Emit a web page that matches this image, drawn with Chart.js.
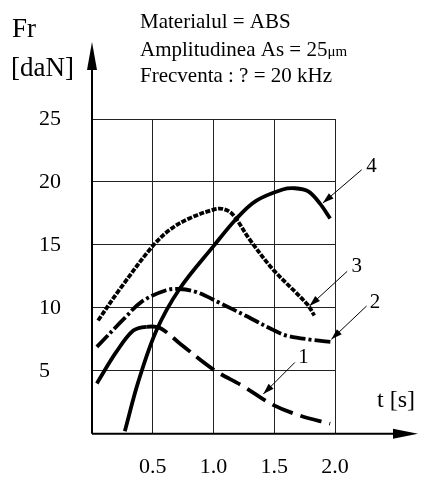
<!DOCTYPE html>
<html><head><meta charset="utf-8">
<script src="https://cdn.jsdelivr.net/npm/chart.js@4"></script>
<style>html,body{margin:0;padding:0;background:#fff}#wrap{width:422px;height:477px}</style>
</head><body><div id="wrap"><canvas id="c" width="422" height="477"></canvas></div>
<script>
// ---- data ----
const curve1X = [0.04, 0.20, 0.34, 0.45, 0.56, 0.72, 1.00, 1.24, 1.49, 1.71, 1.96];
const curve1Y = [4.0, 6.5, 8.2, 8.5, 8.4, 7.2, 5.1, 3.8, 2.3, 1.45, 0.8];
const curve2X = [0.04, 0.26, 0.41, 0.61, 0.72, 0.86, 1.05, 1.27, 1.48, 1.60, 1.82, 1.97];
const curve2Y = [6.9, 9.1, 10.5, 11.4, 11.5, 11.25, 10.4, 9.35, 8.3, 7.8, 7.45, 7.3];
const curve3X = [0.05, 0.23, 0.49, 0.64, 0.80, 1.00, 1.08, 1.16, 1.30, 1.49, 1.77, 1.83];
const curve3Y = [9.0, 11.5, 14.8, 16.2, 17.1, 17.8, 17.85, 17.4, 15.4, 13.05, 10.3, 9.4];
const curve4X = [0.27, 0.38, 0.53, 0.72, 1.00, 1.19, 1.35, 1.57, 1.67, 1.78, 1.875, 1.96];
const curve4Y = [0.2, 4.1, 8.2, 11.5, 14.9, 17.1, 18.5, 19.4, 19.5, 19.25, 18.3, 17.1];
const curveLabels = ["1", "2", "3", "4"];
const labelTextX = [1.74, 2.33, 2.18, 2.30];
const labelTextY = [6.1, 10.4, 13.3, 21.2];
const labelFromX = [1.67, 2.26, 2.10, 2.22];
const labelFromY = [5.67, 10.15, 12.9, 20.97];
const labelTipX = [1.41, 1.97, 1.79, 1.90];
const labelTipY = [3.16, 7.5, 10.15, 18.33];
const xTicks = [0.5, 1.0, 1.5, 2.0];
const yTicks = [5, 10, 15, 20, 25];
const headerLines = ["Materialul = ABS", "Amplitudinea As = 25", "Frecventa : ? = 20 kHz"];

const pts = (xs, ys) => xs.map((x, i) => ({x, y: ys[i]}));
const SERIF = "'Liberation Serif', 'DejaVu Serif', serif";

function arrowHead(ctx, x1, y1, x2, y2, len, half) {
  const a = Math.atan2(y2 - y1, x2 - x1);
  ctx.beginPath();
  ctx.moveTo(x2, y2);
  ctx.lineTo(x2 - len * Math.cos(a) + half * Math.sin(a), y2 - len * Math.sin(a) - half * Math.cos(a));
  ctx.lineTo(x2 - len * Math.cos(a) - half * Math.sin(a), y2 - len * Math.sin(a) + half * Math.cos(a));
  ctx.closePath();
  ctx.fill();
}

const decor = {
  id: 'decor',
  afterDraw(chart) {
    const ctx = chart.ctx, xs = chart.scales.x, ys = chart.scales.y, ca = chart.chartArea;
    ctx.save();
    ctx.fillStyle = '#000'; ctx.strokeStyle = '#000';
    // axes with arrows
    ctx.lineWidth = 2;
    ctx.beginPath(); ctx.moveTo(ca.left, ca.bottom); ctx.lineTo(ca.left, 60); ctx.stroke();
    arrowHead(ctx, ca.left, 100, ca.left, 42, 28, 5);
    ctx.beginPath(); ctx.moveTo(ca.left, ca.bottom); ctx.lineTo(400, ca.bottom); ctx.stroke();
    arrowHead(ctx, 300, ca.bottom, 418, ca.bottom, 25, 5);
    // curve labels with arrows
    ctx.lineWidth = 1;
    ctx.font = "21px " + SERIF;
    ctx.textAlign = 'center'; ctx.textBaseline = 'middle';
    curveLabels.forEach((t, i) => {
      const fx = xs.getPixelForValue(labelFromX[i]), fy = ys.getPixelForValue(labelFromY[i]);
      const tx = xs.getPixelForValue(labelTipX[i]), ty = ys.getPixelForValue(labelTipY[i]);
      ctx.beginPath(); ctx.moveTo(fx, fy); ctx.lineTo(tx, ty); ctx.stroke();
      arrowHead(ctx, fx, fy, tx, ty, 11, 3.5);
      ctx.fillText(t, xs.getPixelForValue(labelTextX[i]), ys.getPixelForValue(labelTextY[i]));
    });
    // axis titles
    ctx.textAlign = 'left'; ctx.textBaseline = 'alphabetic';
    ctx.font = "27px " + SERIF;
    ctx.fillText("Fr", 12, 37);
    ctx.fillText("[daN]", 11, 76);
    ctx.font = "24px " + SERIF;
    ctx.fillText("t [s]", 377, 407);
    // header
    ctx.font = "21px " + SERIF;
    ctx.fillText(headerLines[0], 140, 28);
    ctx.fillText(headerLines[1], 140, 56);
    const w = ctx.measureText(headerLines[1]).width;
    ctx.font = "15px " + SERIF;
    ctx.fillText("μm", 140 + w, 56);
    ctx.font = "21px " + SERIF;
    ctx.fillText(headerLines[2], 140, 82);
    ctx.restore();
  }
};

const base = {borderColor: '#000', borderWidth: 3.8, pointRadius: 0, fill: false, tension: 0.35, borderCapStyle: 'butt'};

new Chart(document.getElementById('c'), {
  type: 'line',
  data: {
    datasets: [
      Object.assign({}, base, {label: '1', data: pts(curve1X, curve1Y),
        segment: {borderDash: c => c.p1.parsed.x <= 0.46 ? [] : [22, 8]}}),
      Object.assign({}, base, {label: '2', data: pts(curve2X, curve2Y), borderDash: [16, 3, 3, 3]}),
      Object.assign({}, base, {label: '3', data: pts(curve3X, curve3Y), borderDash: [5, 1.5]}),
      Object.assign({}, base, {label: '4', data: pts(curve4X, curve4Y)})
    ]
  },
  options: {
    responsive: false, animation: false,
    layout: {padding: {left: 39, top: 119, right: 87, bottom: 0}},
    plugins: {legend: {display: false}, tooltip: {enabled: false}},
    scales: {
      x: {
        type: 'linear', min: 0, max: 2.0,
        afterFit: s => { s.height = 42; },
        afterBuildTicks: s => { s.ticks = xTicks.map(v => ({value: v})); },
        grid: {color: '#222', lineWidth: 1, drawTicks: false},
        border: {display: false},
        ticks: {padding: 20, color: '#000', font: {family: SERIF, size: 22},
          callback: v => Number(v).toFixed(1), maxRotation: 0, autoSkip: false}
      },
      y: {
        type: 'linear', min: 0, max: 25,
        afterFit: s => { s.width = 53; },
        afterBuildTicks: s => { s.ticks = yTicks.map(v => ({value: v})); },
        grid: {color: '#222', lineWidth: 1, drawTicks: false},
        border: {display: false},
        ticks: {padding: 30, crossAlign: 'far', color: '#000', font: {family: SERIF, size: 22},
          callback: v => String(v), autoSkip: false}
      }
    }
  },
  plugins: [decor]
});
</script>
</body></html>
